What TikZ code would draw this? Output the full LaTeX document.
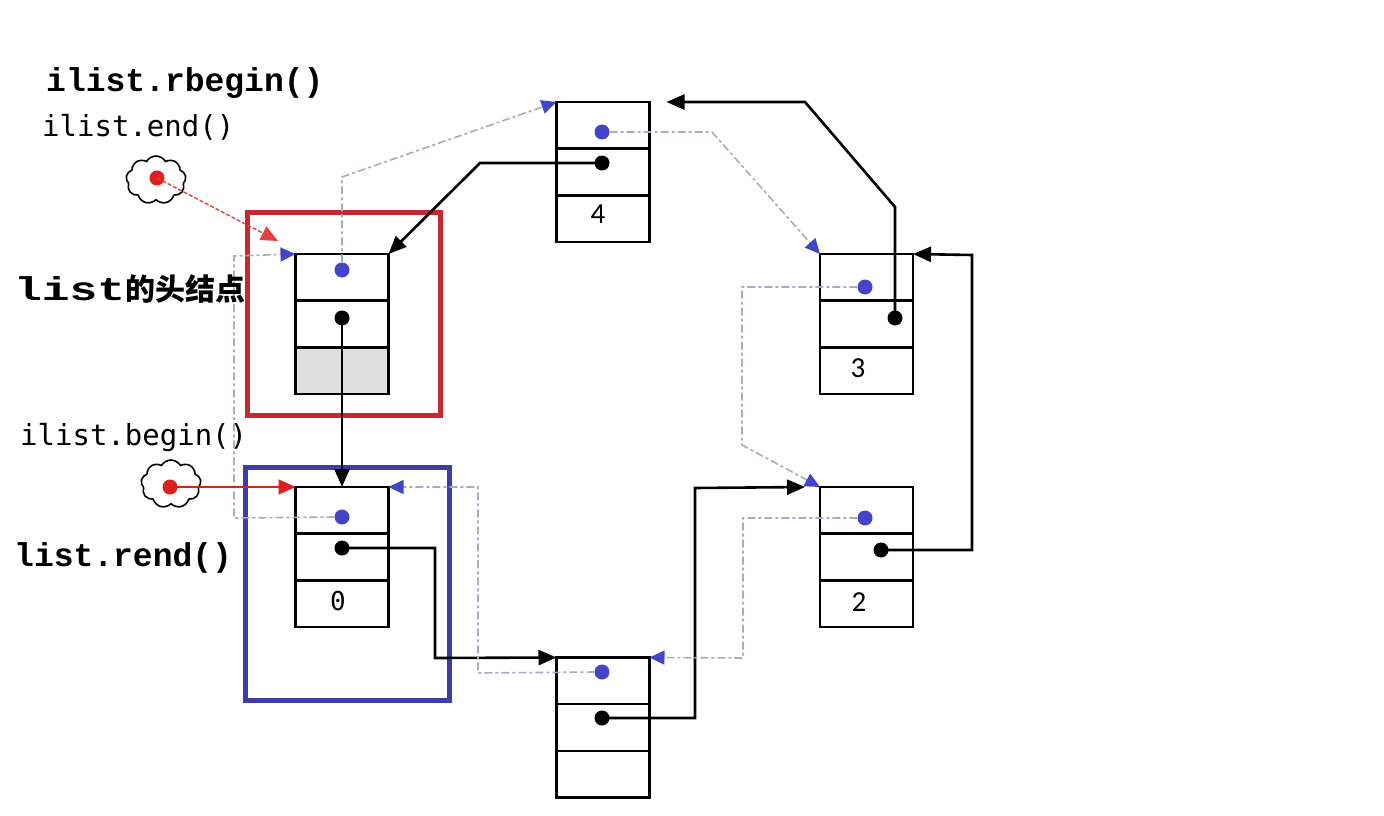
\documentclass[tikz,border=0pt]{standalone}
\usepackage{fontspec}
\setmainfont{DejaVu Sans}
\newfontfamily\bmono{Liberation Mono}
\newfontfamily\smono{DejaVu Sans Mono}
\newfontfamily\cjk{Noto Sans CJK SC}
\newfontfamily\dig{Carlito}
\usetikzlibrary{arrows.meta,shapes.symbols}
\definecolor{dotblue}{RGB}{68,68,200}
\definecolor{dashgray}{RGB}{170,170,192}
\definecolor{framered}{RGB}{200,40,50}
\definecolor{frameblue}{RGB}{60,60,170}
\definecolor{ptrred}{RGB}{225,30,30}
\definecolor{cellgray}{RGB}{222,222,222}
\newcommand\cellrows[1]{\draw[line width=2.4pt] ([yshift=-46.67pt]#1.north west) -- ([yshift=-46.67pt]#1.north east) ([yshift=46.67pt]#1.south west) -- ([yshift=46.67pt]#1.south east);}
\begin{document}
\begin{tikzpicture}[x=1pt,y=-1pt,
  cell/.style={draw,line width=2.4pt,minimum width=93pt,minimum height=140pt,inner sep=0pt,outer sep=0pt},
  bdot/.style={circle,fill=dotblue,inner sep=0pt,minimum size=15pt},
  kdot/.style={circle,fill=black,inner sep=0pt,minimum size=15pt},
  rdot/.style={circle,fill=ptrred,inner sep=0pt,minimum size=15pt},
  nextp/.style={line width=2.6pt,-{Triangle[length=18pt,width=15pt]}},
  prevp/.style={draw=dashgray,line width=1.6pt,dash pattern=on 8pt off 3pt on 3pt off 3pt,-{Triangle[length=15pt,width=14pt,color=dotblue]}},
  frame/.style={draw,line width=5pt,inner sep=0pt,outer sep=0pt},
  cloudy/.style={cloud,cloud puffs=9,cloud puff arc=120,aspect=1.3,draw,line width=1.6pt,minimum width=60pt,minimum height=48pt,inner sep=0pt},
  sertxt/.style={font=\bmono\bfseries\fontsize{33}{33}\selectfont,inner sep=0pt,anchor=base west},
  santxt/.style={font=\smono\fontsize{29}{29}\selectfont,inner sep=0pt,anchor=base west},
  digit/.style={font=\dig\fontsize{29}{29}\selectfont,inner sep=0pt},
]
\fill[white] (0,0) rectangle (1384,816);
\useasboundingbox (0,0) rectangle (1384,816);

% frames
\node[frame,draw=framered,minimum width=193pt,minimum height=203pt] (RF) at (344,314) {};
\node[frame,draw=frameblue,minimum width=204pt,minimum height=233pt] (BF) at (347.5,584) {};

% head cell gray part
\fill[cellgray] (296,347) rectangle (388,394);

% list nodes
\node[cell] (H) at (342,324) {};
\cellrows{H}
\node[cell] (N0) at (342,557) {};
\cellrows{N0}
\node[cell] (N4) at (603,172) {};
\cellrows{N4}
\node[cell] (N3) at (866.5,324) {};
\cellrows{N3}
\node[cell] (N2) at (866.5,557) {};
\cellrows{N2}
\node[cell] (NB) at (603,727.5) {};
\cellrows{NB}

% values
\node[digit] (L4) at (598,214) {4};
\node[digit] (L3) at (858,368) {3};
\node[digit] (L2) at (859,602) {2};
\node[font=\smono\fontsize{26}{26}\selectfont,inner sep=0pt] (L0) at (338,601) {0};

% dots
\node[bdot] (Hp) at (342,270) {};
\node[kdot] (Hn) at (342,318) {};
\node[bdot] (N0p) at (342,517) {};
\node[kdot] (N0n) at (342,548) {};
\node[bdot] (NBp) at (602,672) {};
\node[kdot] (NBn) at (602,718) {};
\node[bdot] (N2p) at (865,518) {};
\node[kdot] (N2n) at (881,550) {};
\node[bdot] (N3p) at (865,287) {};
\node[kdot] (N3n) at (895,318) {};
\node[bdot] (N4p) at (602,132) {};
\node[kdot] (N4n) at (602,163) {};

% next pointers
\draw[nextp] (Hn.center) -- (N0.north);
\draw[nextp] (N0n.center) -- (435,548) -- (435,658) -- (NB.north west);
\draw[nextp] (NBn.center) -- (695,718) -- (695,488) -- ([xshift=-15pt]N2.north west);
\draw[nextp] (N2n.center) -- (972,550) -- (972,255) -- (N3.north east);
\draw[nextp] (N3n.center) -- (895,207) -- (805,102) -- ([xshift=17pt]N4.north east);
\draw[nextp] (N4n.center) -- (480,163) -- (H.north east);

% prev pointers
\draw[prevp] (Hp.north) -- (342,177) -- (N4.north west);
\draw[prevp] (N4p.east) -- (712,132) -- (N3.north west);
\draw[prevp] (N3p.west) -- (742,287) -- (742,445) -- (N2.north west);
\draw[prevp] (N2p.west) -- (743,518) -- (743,658) -- (NB.north east);
\draw[prevp] (NBp.west) -- (478,673) -- (478,487) -- (N0.north east);
\draw[prevp] (N0p.west) -- (234,518) -- (234,256) -- (H.north west);

% iterators
\node[cloudy] (C1) at (156,180) {};
\node[rdot] (R1) at (157,178) {};
\coordinate (T1) at (278,241);
\draw[ptrred!85,line width=1.4pt,dash pattern=on 4pt off 2pt,-{Triangle[length=17pt,width=15pt]}] (R1.center) -- (T1);
\node[cloudy] (C2) at (171,484) {};
\node[rdot] (R2) at (170,487) {};
\draw[ptrred,line width=1.8pt,-{Triangle[length=17pt,width=15pt]}] (R2.center) -- (N0.north west);

% labels
\node[sertxt] (Trb) at (46,92) {ilist.rbegin()};
\node[santxt] (Tend) at (42,136) {ilist.end()};
\node[sertxt] (Thead) at (14,300) {\scalebox{1.4}[1]{list}{\cjk\bfseries\fontsize{30}{30}\selectfont 的头结点}};
\node[santxt] (Tbeg) at (20,445) {ilist.begin()};
\node[sertxt] (Trend) at (14,566) {list.rend()};
\end{tikzpicture}
\end{document}
